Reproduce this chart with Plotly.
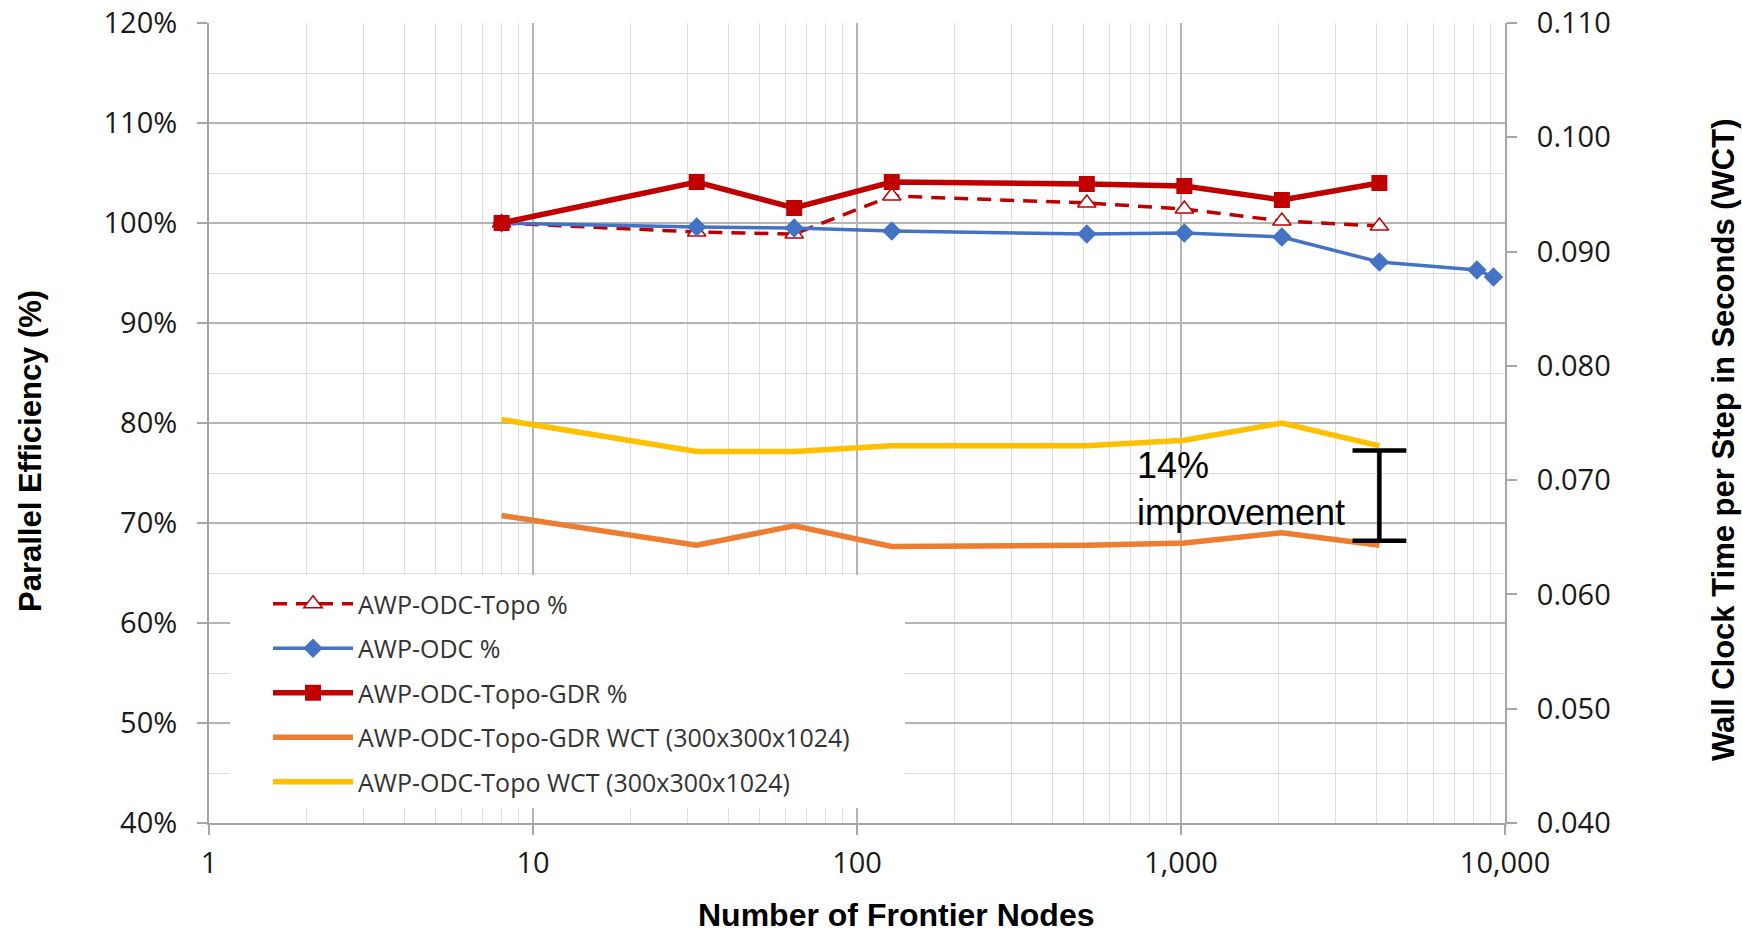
import plotly.graph_objects as go

# ---------------- data ----------------
nodes = [8, 32, 64, 128, 512, 1024, 2048, 4096]
topo_pct = [100.0, 99.1, 98.9, 102.7, 102.0, 101.4, 100.2, 99.7]
gdr_pct = [100.0, 104.1, 101.5, 104.1, 103.9, 103.7, 102.3, 104.0]
odc_nodes = [8, 32, 64, 128, 512, 1024, 2048, 4096, 8192, 9216]
odc_pct = [100.0, 99.6, 99.5, 99.2, 98.9, 99.0, 98.6, 96.1, 95.3, 94.6]
gdr_wct = [0.0669, 0.0643, 0.0660, 0.0642, 0.0643, 0.0645, 0.0654, 0.0643]
topo_wct = [0.0753, 0.0725, 0.0725, 0.0730, 0.0730, 0.0735, 0.0750, 0.0730]

x_tickvals = [1, 10, 100, 1000, 10000]
x_ticktext = ["1", "10", "100", "1,000", "10,000"]

series_names = [
    "AWP-ODC-Topo %",
    "AWP-ODC %",
    "AWP-ODC-Topo-GDR %",
    "AWP-ODC-Topo-GDR WCT (300x300x1024)",
    "AWP-ODC-Topo WCT (300x300x1024)",
]

# improvement bracket (annotation)
bracket_x = 4096
bracket_halfwidth_dec = 0.083
bracket_top = 0.0726
bracket_bottom = 0.0647
improvement_text = "14%<br>improvement"

# ---------------- styles ----------------
RED = "#C00000"
BLUE = "#4472C4"
ORANGE = "#ED7D31"
YELLOW = "#FFC000"
MAJOR_GRID = "#b5b5b5"
MINOR_GRID = "#dedede"
AXIS_LINE = "#a6a6a6"
TICK_FONT = dict(family="Open Sans", size=29, color="#1a1a1a")
TITLE_FAMILY = "Liberation Sans"

fig = go.Figure()

fig.add_trace(go.Scatter(
    x=nodes, y=topo_pct, name=series_names[0], mode="lines+markers",
    line=dict(color=RED, width=3.5, dash="14px,9px"),
    marker=dict(symbol="triangle-up", size=16, color="white",
                line=dict(color=RED, width=1.5)),
    legendgroup="g1",
))
fig.add_trace(go.Scatter(
    x=odc_nodes, y=odc_pct, name=series_names[1], mode="lines+markers",
    line=dict(color=BLUE, width=3.5),
    marker=dict(symbol="diamond", size=15, color=BLUE),
    legendgroup="g2",
))
fig.add_trace(go.Scatter(
    x=nodes, y=gdr_pct, name=series_names[2], mode="lines+markers",
    line=dict(color=RED, width=5.5),
    marker=dict(symbol="square", size=16, color=RED),
    legendgroup="g3",
))
fig.add_trace(go.Scatter(
    x=nodes, y=gdr_wct, name=series_names[3], mode="lines",
    line=dict(color=ORANGE, width=5.5), yaxis="y2",
    legendgroup="g4",
))
fig.add_trace(go.Scatter(
    x=nodes, y=topo_wct, name=series_names[4], mode="lines",
    line=dict(color=YELLOW, width=5.5), yaxis="y2",
    legendgroup="g5",
))

# improvement bracket drawn via the axes
lo = bracket_x / (10 ** bracket_halfwidth_dec)
hi = bracket_x * (10 ** bracket_halfwidth_dec)
fig.add_trace(go.Scatter(
    x=[lo, hi, None, bracket_x, bracket_x, None, lo, hi],
    y=[bracket_top, bracket_top, None, bracket_top, bracket_bottom, None, bracket_bottom, bracket_bottom],
    mode="lines", line=dict(color="black", width=4.5), yaxis="y2",
    showlegend=False, hoverinfo="skip",
))

# white box behind legend (hides gridlines)
fig.add_shape(type="rect", xref="paper", yref="paper",
              x0=(230 - 209) / 1296, x1=(905 - 209) / 1296,
              y0=(823 - 808) / 800, y1=(823 - 575) / 800,
              fillcolor="white", line=dict(width=0), layer="above")

fig.update_layout(
    width=1742, height=936,
    margin=dict(l=209, r=237, t=23, b=113, autoexpand=False),
    paper_bgcolor="white", plot_bgcolor="white",
    showlegend=True,
    legend=dict(
        x=(268 - 209) / 1296, y=(823 - 581) / 800, xanchor="left", yanchor="top",
        bgcolor="rgba(0,0,0,0)", font=dict(family="Open Sans", size=25, color="#333333"),
        itemwidth=80, traceorder="grouped", tracegroupgap=9,
    ),
    xaxis=dict(
        type="log", range=[0, 4], automargin=False,
        tickmode="array", tickvals=x_tickvals, ticktext=x_ticktext,
        showgrid=True, gridcolor=MAJOR_GRID, gridwidth=1.5,
        minor=dict(dtick="D1", showgrid=True, gridcolor=MINOR_GRID, gridwidth=1),
        showline=True, linecolor=AXIS_LINE, linewidth=2,
        ticks="outside", ticklen=10, tickcolor=AXIS_LINE, tickwidth=1.5,
        tickfont=TICK_FONT, ticklabelstandoff=3, zeroline=False,
    ),
    yaxis=dict(
        range=[40, 120], dtick=10, ticksuffix="%", automargin=False,
        showgrid=True, gridcolor=MAJOR_GRID, gridwidth=1.5,
        minor=dict(dtick=5, showgrid=True, gridcolor=MINOR_GRID, gridwidth=1),
        showline=True, linecolor=AXIS_LINE, linewidth=2,
        ticks="outside", ticklen=10, tickcolor=AXIS_LINE, tickwidth=1.5,
        tickfont=TICK_FONT, ticklabelstandoff=14, zeroline=False,
    ),
    yaxis2=dict(
        overlaying="y", side="right", range=[0.040, 0.110], dtick=0.01,
        tickformat=".3f", showgrid=False, automargin=False,
        showline=True, linecolor=AXIS_LINE, linewidth=2,
        ticks="outside", ticklen=10, tickcolor=AXIS_LINE, tickwidth=1.5,
        tickfont=TICK_FONT, ticklabelstandoff=14, zeroline=False,
    ),
    annotations=[
        dict(text="<b>Parallel Efficiency (%)</b>", textangle=-90,
             xref="paper", yref="paper", x=(31 - 209) / 1296, y=(823 - 451) / 800,
             xanchor="center", yanchor="middle", showarrow=False,
             font=dict(family=TITLE_FAMILY, size=31, color="black")),
        dict(text="<b>Wall Clock Time per Step in Seconds (WCT)</b>", textangle=-90,
             xref="paper", yref="paper", x=(1723 - 209) / 1296, y=(823 - 440) / 800,
             xanchor="center", yanchor="middle", showarrow=False,
             font=dict(family=TITLE_FAMILY, size=31, color="black")),
        dict(text="<b>Number of Frontier Nodes</b>",
             xref="paper", yref="paper", x=(896 - 209) / 1296, y=(823 - 915) / 800,
             xanchor="center", yanchor="middle", showarrow=False,
             font=dict(family=TITLE_FAMILY, size=32, color="black")),
        dict(text=improvement_text, align="left",
             xref="paper", yref="paper", x=(1135 - 209) / 1296, y=(823 - 489) / 800,
             xanchor="left", yanchor="middle", showarrow=False,
             font=dict(family="Liberation Sans", size=36, color="black")),
    ],
)

fig.write_html(
    "out.html",
    config={"displayModeBar": False},
    post_script="document.body.style.margin='0px';document.body.style.overflow='hidden';",
)
